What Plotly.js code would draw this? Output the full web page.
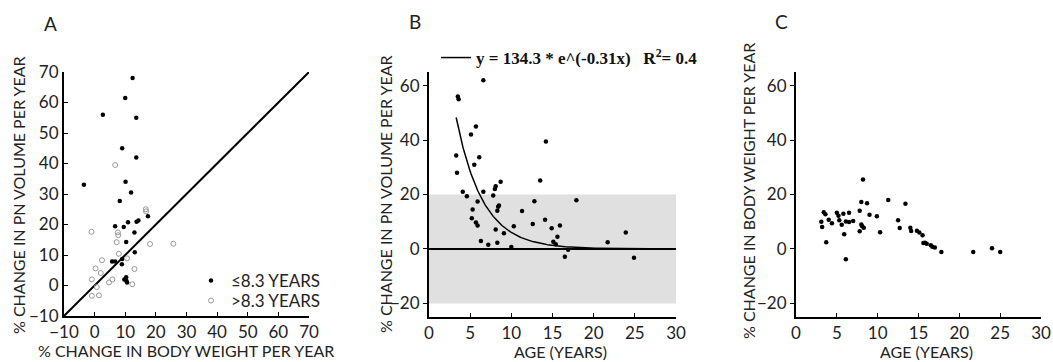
<!DOCTYPE html>
<html>
<head>
<meta charset="utf-8">
<script src="https://cdn.plot.ly/plotly-3.0.1.min.js"></script>
<style>html,body{margin:0;padding:0;background:#fff;}#chart{width:1053px;height:362px;}</style>
</head>
<body>
<div id="chart"></div>
<script>
// Panel A: % change in body weight (x) vs % change in PN volume (y)
const youngBW = [12.4, 10, 2.7, 13.6, 9, 13.6, 10.1, -3.5, 11.9, 8.2, 17.4, 10.9, 13.7, 14.3, 6.7, 9.5, 13, 10.3, 13.1, 9, 5.7, 6.7, 8.9, 9.7, 10.3, 10.4, 10.6];
const youngPN = [68, 61.5, 56, 55, 45, 42, 34, 33, 30.5, 27.7, 22.7, 20.7, 20.9, 21.3, 19.4, 19.2, 17.4, 14.3, 10.9, 8.7, 7.9, 7.9, 7.0, 2, 2.7, 1.5, 1.0];
const oldBW = [6.7, 16.7, 16.8, 7.6, 7.7, 7.2, -1, 18.1, 25.7, 7.9, 10.6, 2.4, 0.3, 13, 2, -0.9, 5.8, 4.7, 12.3, 0.7, -0.9, 1.4];
const oldPN = [39.5, 25, 24.3, 17.4, 16.5, 14.2, 17.6, 13.6, 13.7, 10.4, 8.9, 8.3, 5.6, 5.4, 4.1, 2, 2, 1.0, 0.4, -0.5, -3.4, -3.2];
const identityLine = [-10, 70];

// Panel B: age vs % change in PN volume
const ageB = [6.6, 3.5, 3.6, 5.1, 5.7, 14.2, 3.3, 6.1, 5.5, 3.4, 13.5, 8.7, 8.1, 8.0, 4.1, 6.6, 4.6, 7.8, 5.9, 12.8, 17.9, 8.5, 8.4, 5.3, 8.3, 11.3, 5.2, 14.1, 5.7, 5.9, 12.6, 10.3, 15.9, 8.1, 14.9, 9.1, 23.9, 15.6, 6.3, 8.3, 15.1, 21.7, 7.2, 15.4, 10, 16.9, 16.5, 24.9];
const pnB = [62, 56, 55, 42, 45, 39.5, 34.3, 33.7, 30.9, 28, 25.1, 24.7, 23, 22, 21, 21, 19.4, 19.6, 17.4, 17.5, 17.9, 16, 15.5, 14.5, 14, 13.9, 11.3, 10.7, 9.7, 8.6, 9.2, 8.3, 8.6, 7.1, 7.6, 5.8, 6, 4.5, 2.9, 2.3, 2.6, 2.5, 1.5, 1.7, 0.7, -0.3, -2.9, -3.2];
const FIT_A = 134.3, FIT_B = -0.31, FIT_X0 = 3.3, FIT_X1 = 30;
const bandLow = -20, bandHigh = 20;

// Panel C: age vs % change in body weight
const ageC = [8.2, 11.3, 13.4, 8.0, 8.7, 7.8, 3.4, 3.6, 5.0, 5.8, 6.5, 5.2, 9.0, 9.9, 3.1, 3.2, 4.0, 4.4, 5.3, 5.6, 6.1, 6.5, 7.0, 12.5, 8.0, 8.3, 8.1, 12.7, 14.0, 14.1, 14.8, 15.1, 15.5, 7.8, 10.3, 5.9, 15.6, 15.8, 16.0, 16.5, 16.7, 17.0, 17.8, 3.7, 6.1, 21.7, 24.0, 25.0];
const bwC = [25.5, 18, 16.6, 17.2, 16.8, 14, 13.5, 12.7, 13.3, 12.9, 13.3, 12.2, 12.6, 12, 10, 8.1, 10.7, 9.4, 10.5, 8.9, 10.1, 9.9, 10.3, 10.5, 9.0, 7.8, 8.3, 7.7, 7.8, 6.6, 6.7, 6.0, 5.0, 6.5, 6.1, 5.4, 2.2, 2.3, 1.9, 1.4, 0.8, 0.5, -1.1, 2.5, -3.8, -1.1, 0.3, -1.1];

const xTicksA = [-10, 0, 10, 20, 30, 40, 50, 60, 70];
const yTicksA = [-10, 0, 10, 20, 30, 40, 50, 60, 70];
const xTicksAge = [0, 5, 10, 15, 20, 25, 30];
const yTicksBC = [-20, 0, 20, 40, 60];

const fitX = [], fitY = [];
for (let x = FIT_X0; x <= FIT_X1 + 1e-9; x += 0.1) { fitX.push(x); fitY.push(FIT_A * Math.exp(FIT_B * x)); }

const W = 1053, H = 362;
const px = v => v / W, py = v => 1 - v / H;
const FONT = 'Lato, "Open Sans", sans-serif';
const TXT = '#222';

const traces = [
  {x: identityLine, y: identityLine, xaxis: 'x', yaxis: 'y', mode: 'lines', line: {color: '#000', width: 2}, showlegend: false, hoverinfo: 'skip'},
  {x: youngBW, y: youngPN, xaxis: 'x', yaxis: 'y', mode: 'markers', name: '≤8.3 YEARS', legend: 'legend', marker: {color: '#000', size: 4.5}},
  {x: oldBW, y: oldPN, xaxis: 'x', yaxis: 'y', mode: 'markers', name: '>8.3 YEARS', legend: 'legend3', marker: {symbol: 'circle-open', color: '#999', size: 5, line: {width: 1, color: '#999'}}},
  {x: ageB, y: pnB, xaxis: 'x2', yaxis: 'y2', mode: 'markers', marker: {color: '#000', size: 4.5}, showlegend: false},
  {x: fitX, y: fitY, xaxis: 'x2', yaxis: 'y2', mode: 'lines', line: {color: '#000', width: 1.5}, legend: 'legend2',
   name: 'y = 134.3 * e^(-0.31x)   R<sup>2</sup>= 0.4'},
  {x: ageC, y: bwC, xaxis: 'x3', yaxis: 'y3', mode: 'markers', marker: {color: '#000', size: 4.5}, showlegend: false}
];

function axis(extra) {
  return Object.assign({
    showline: true, linecolor: '#000', linewidth: 2, showgrid: false, zeroline: false,
    ticks: 'outside', ticklen: 4, tickwidth: 1, tickcolor: '#000', mirror: false,
    tickfont: {family: FONT, size: 17, color: TXT}, fixedrange: true
  }, extra);
}

const ann = (text, x, y, opts) => Object.assign({text, x: px(x), y: py(y), xref: 'paper', yref: 'paper', showarrow: false,
  font: {family: FONT, size: 16, color: TXT}, xanchor: 'center', yanchor: 'middle'}, opts || {});

const legA = {xanchor: 'left', yanchor: 'middle', bgcolor: 'rgba(0,0,0,0)',
  font: {family: FONT, size: 17, color: TXT}, itemwidth: 30};

const layout = {
  width: W, height: H, margin: {l: 0, r: 0, t: 0, b: 0},
  paper_bgcolor: '#fff', plot_bgcolor: 'rgba(0,0,0,0)',
  font: {family: FONT, color: TXT},
  xaxis: axis({domain: [px(64), px(309)], range: [-10, 70], tickvals: xTicksA, anchor: 'y', ticks: 'inside'}),
  yaxis: axis({domain: [py(316), py(72)], range: [-10, 70], tickvals: yTicksA, anchor: 'x', ticks: 'inside'}),
  xaxis2: axis({domain: [px(429), px(676)], range: [0, 30], tickvals: xTicksAge, anchor: 'y2', ticks: 'inside'}),
  yaxis2: axis({domain: [py(317), py(72)], range: [-25, 65], tickvals: yTicksBC, anchor: 'x2'}),
  xaxis3: axis({domain: [px(796), px(1041)], range: [0, 30], tickvals: xTicksAge, anchor: 'y3', ticks: 'inside'}),
  yaxis3: axis({domain: [py(317), py(72)], range: [-25, 65], tickvals: yTicksBC, anchor: 'x3'}),
  shapes: [
    {type: 'rect', xref: 'x2', yref: 'y2', x0: xTicksAge[0], x1: xTicksAge[xTicksAge.length - 1], y0: bandLow, y1: bandHigh, fillcolor: '#e0e0e0', line: {width: 0}, layer: 'below'},
    {type: 'line', xref: 'x2', yref: 'y2', x0: xTicksAge[0], x1: xTicksAge[xTicksAge.length - 1], y0: 0, y1: 0, line: {color: '#000', width: 2}}
  ],
  legend: Object.assign({x: px(191), y: py(281)}, legA),
  legend3: Object.assign({x: px(191), y: py(301)}, legA),
  legend2: {x: px(436), y: py(40), xanchor: 'left', yanchor: 'top', bgcolor: 'rgba(0,0,0,0)',
    font: {family: '"Liberation Serif", "Times New Roman", serif', size: 17, color: '#111', weight: 700}, itemwidth: 30},
  annotations: [
    ann('A', 50, 23, {font: {family: FONT, size: 19, color: TXT}}),
    ann('B', 415, 22, {font: {family: FONT, size: 19, color: TXT}}),
    ann('C', 781, 22, {font: {family: FONT, size: 19, color: TXT}}),
    ann('% CHANGE IN PN VOLUME PER YEAR', 18, 195, {textangle: -90}),
    ann('% CHANGE IN BODY WEIGHT PER YEAR', 186, 350),
    ann('% CHANGE IN PN VOLUME PER YEAR', 385, 194, {textangle: -90}),
    ann('AGE (YEARS)', 560, 351),
    ann('% CHANGE IN BODY WEIGHT PER YEAR', 748, 191, {textangle: -90}),
    ann('AGE (YEARS)', 926, 351)
  ]
};

Plotly.newPlot('chart', traces, layout, {staticPlot: true, displayModeBar: false});
</script>
</body>
</html>
